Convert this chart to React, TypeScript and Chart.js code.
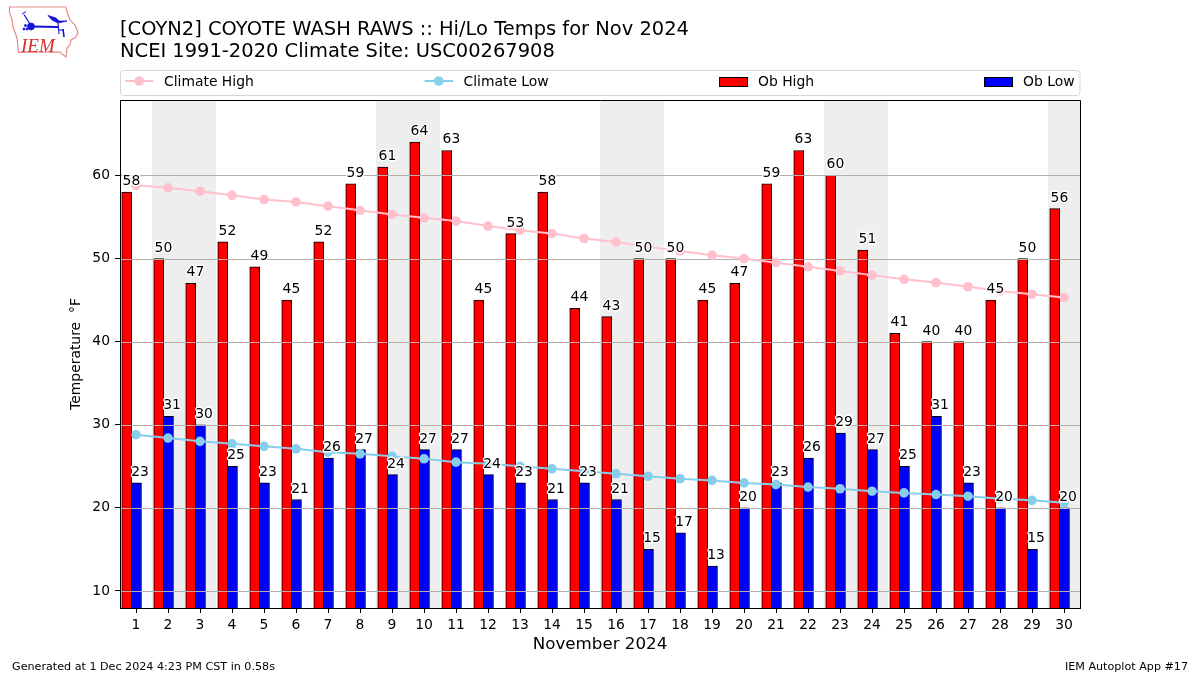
import React, { useEffect, useRef } from "react";
import { Chart, registerables } from "chart.js";

Chart.register(...registerables);

const days = [1,2,3,4,5,6,7,8,9,10,11,12,13,14,15,16,17,18,19,20,21,22,23,24,25,26,27,28,29,30];
const obHigh = [58,50,47,52,49,45,52,59,61,64,63,45,53,58,44,43,50,50,45,47,59,63,60,51,41,40,40,45,50,56];
const obLow = [23,31,30,25,23,21,26,27,24,27,27,24,23,21,23,21,15,17,13,20,23,26,29,27,25,31,23,20,15,20];
const climateHigh = [58.8,58.5,58.1,57.6,57.1,56.8,56.3,55.8,55.3,54.9,54.5,53.9,53.4,53.0,52.4,52.0,51.4,50.9,50.4,50.0,49.5,49.0,48.5,48.0,47.5,47.1,46.6,46.1,45.7,45.3];
const climateLow = [28.8,28.4,28.0,27.7,27.4,27.1,26.7,26.5,26.2,25.9,25.5,25.3,25.0,24.7,24.4,24.1,23.8,23.5,23.3,23.0,22.8,22.5,22.3,22.0,21.8,21.6,21.4,21.1,20.9,20.6];
const weekendBands = [[1.5,3.5],[8.5,10.5],[15.5,17.5],[22.5,24.5],[29.5,30.5]];
const yTicks = [10,20,30,40,50,60];
const titleLines = ["[COYN2] COYOTE WASH RAWS :: Hi/Lo Temps for Nov 2024", "NCEI 1991-2020 Climate Site: USC00267908"];
const footerLeft = "Generated at 1 Dec 2024 4:23 PM CST in 0.58s";
const footerRight = "IEM Autoplot App #17";

const FONT = '"DejaVu Sans"';
const HIGH_OFFSET = -0.29;
const LOW_OFFSET = 0.015;

const bandsPlugin = {
  id: "bands",
  beforeDatasetsDraw(chart: any) {
    const { ctx, chartArea, scales } = chart;
    ctx.save();
    ctx.fillStyle = "#eeeeee";
    for (const [a, b] of weekendBands) {
      const x0 = scales.x.getPixelForValue(a);
      const x1 = scales.x.getPixelForValue(b);
      ctx.fillRect(x0, chartArea.top, x1 - x0, chartArea.height);
    }
    ctx.restore();
  },
};

const gridPlugin = {
  id: "gridOverBars",
  afterDatasetDraw(chart: any, args: any) {
    // index 2 (Ob High) is the last bar dataset painted
    if (args.index !== 2) return;
    const { ctx, chartArea, scales } = chart;
    ctx.save();
    ctx.strokeStyle = "#b0b0b0";
    ctx.lineWidth = 1;
    for (const v of yTicks) {
      const y = Math.round(scales.y.getPixelForValue(v)) + 0.5;
      ctx.beginPath();
      ctx.moveTo(chartArea.left, y);
      ctx.lineTo(chartArea.right, y);
      ctx.stroke();
    }
    ctx.restore();
  },
};

const labelPlugin = {
  id: "valueLabels",
  afterDatasetsDraw(chart: any) {
    const { ctx, chartArea, scales } = chart;
    ctx.save();
    ctx.font = `13.9px ${FONT}`;
    ctx.textAlign = "left";
    ctx.textBaseline = "alphabetic";
    ctx.lineJoin = "round";
    const draw = (vals: number[], off: number) => {
      vals.forEach((v, i) => {
        const x = scales.x.getPixelForValue(days[i] + off);
        const y = scales.y.getPixelForValue(v) - 7;
        ctx.strokeStyle = "#ffffff";
        ctx.lineWidth = 2.8;
        ctx.strokeText(String(v), x, y);
        ctx.fillStyle = "#000000";
        ctx.fillText(String(v), x, y);
      });
    };
    draw(obHigh, -0.42);
    draw(obLow, -0.15);
    ctx.strokeStyle = "#000000";
    ctx.lineWidth = 1;
    ctx.strokeRect(chartArea.left + 0.5, chartArea.top + 0.5, chartArea.width, chartArea.height);
    ctx.restore();
  },
};

const legendPlugin = {
  id: "expandLegend",
  afterDraw(chart: any) {
    const { ctx } = chart;
    const ds = chart.data.datasets;
    const slots = [125, 424.5, 719, 984];
    ctx.save();
    ctx.strokeStyle = "#d5d5d5";
    ctx.lineWidth = 1;
    ctx.beginPath();
    ctx.roundRect(120.5, 70.5, 959.5, 25, 3);
    ctx.stroke();
    ctx.font = `13.9px ${FONT}`;
    ctx.textBaseline = "alphabetic";
    ctx.textAlign = "left";
    ds.forEach((d: any, i: number) => {
      const x = slots[i];
      if (d.type === "line") {
        ctx.strokeStyle = d.borderColor;
        ctx.lineWidth = 2;
        ctx.beginPath();
        ctx.moveTo(x, 81);
        ctx.lineTo(x + 28.5, 81);
        ctx.stroke();
        ctx.fillStyle = d.borderColor;
        ctx.beginPath();
        ctx.arc(x + 14.2, 81, 4.8, 0, Math.PI * 2);
        ctx.fill();
      } else {
        ctx.fillStyle = d.backgroundColor;
        ctx.fillRect(x, 77, 28, 10);
        ctx.strokeStyle = "#000000";
        ctx.lineWidth = 1;
        ctx.strokeRect(x + 0.5, 77.5, 28, 9);
      }
      ctx.fillStyle = "#000000";
      ctx.fillText(d.label, x + 39, 86);
    });
    ctx.restore();
  },
};

const footerPlugin = {
  id: "footer",
  afterDraw(chart: any) {
    const { ctx } = chart;
    ctx.save();
    ctx.font = `11.15px ${FONT}`;
    ctx.fillStyle = "#000000";
    ctx.textBaseline = "alphabetic";
    ctx.textAlign = "left";
    ctx.fillText(footerLeft, 12, 670);
    ctx.textAlign = "right";
    ctx.fillText(footerRight, 1188, 670);
    ctx.restore();
  },
};

function Logo() {
  return (
    <svg width={90} height={64} style={{ position: "absolute", left: 0, top: 0 }}>
      <path
        d="M9.5 7 L66 7 L67 12 L70 20 L75 25 L78 32 L76 37 L71 40 L70 45 L67 48 L66 57 L62 54 L60 52 L18.5 52.5 L17 38 L13 27 L12 20 L9.5 12 Z"
        fill="none"
        stroke="#e88a8a"
        strokeWidth={1.2}
      />
      <g stroke="#1414d8" fill="#1414d8">
        <line x1={31} y1={26.5} x2={58} y2={27} strokeWidth={1.8} />
        <circle cx={31} cy={26.5} r={3.4} />
        <line x1={30} y1={24} x2={24} y2={14.5} strokeWidth={1.2} />
        <line x1={22} y1={14} x2={26} y2={11.5} strokeWidth={1} />
        <path d="M48 15.5 L56 18 L59 21 L67 21 L58 23 L52 20 Z" strokeWidth={0.8} />
        <line x1={58} y1={23} x2={59} y2={34} strokeWidth={1.1} />
        <line x1={59} y1={30} x2={63} y2={30} strokeWidth={1.1} />
        <line x1={63} y1={29} x2={64} y2={37} strokeWidth={1.6} />
        <circle cx={24} cy={29} r={1} />
        <circle cx={27} cy={29} r={1} />
        <circle cx={25.5} cy={25.5} r={1} />
      </g>
      <text x={21} y={51.5} fontFamily='"Liberation Serif"' fontStyle="italic" fontSize={19} fill="#d92b2b">
        IEM
      </text>
    </svg>
  );
}

export default function App() {
  const ref = useRef<HTMLCanvasElement | null>(null);

  useEffect(() => {
    if (!ref.current) return;
    Chart.defaults.font.family = FONT;
    Chart.defaults.color = "#000000";
    const chart = new Chart(ref.current, {
      type: "bar",
      data: {
        datasets: [
          {
            type: "line",
            label: "Climate High",
            data: days.map((d, i) => ({ x: d, y: climateHigh[i] })),
            borderColor: "#ffc0cb",
            backgroundColor: "#ffc0cb",
            borderWidth: 2,
            pointRadius: 4.8,
            pointBorderWidth: 0,
            pointBackgroundColor: "#ffc0cb",
            tension: 0,
            order: 1,
          },
          {
            type: "line",
            label: "Climate Low",
            data: days.map((d, i) => ({ x: d, y: climateLow[i] })),
            borderColor: "#87ceeb",
            backgroundColor: "#87ceeb",
            borderWidth: 2,
            pointRadius: 4.8,
            pointBorderWidth: 0,
            pointBackgroundColor: "#87ceeb",
            tension: 0,
            order: 0,
          },
          {
            type: "bar",
            label: "Ob High",
            data: days.map((d, i) => ({ x: d + HIGH_OFFSET, y: obHigh[i] })),
            backgroundColor: "#ff0000",
            borderColor: "#000000",
            borderWidth: 1,
            borderSkipped: false,
            barThickness: 10,
            grouped: false,
            order: 2,
          },
          {
            type: "bar",
            label: "Ob Low",
            data: days.map((d, i) => ({ x: d + LOW_OFFSET, y: obLow[i] })),
            backgroundColor: "#0000ff",
            borderColor: "#000000",
            borderWidth: 1,
            borderSkipped: false,
            barThickness: 10,
            grouped: false,
            order: 3,
          },
        ],
      } as any,
      options: {
        responsive: false,
        animation: false,
        layout: { padding: { left: 0, right: 120, top: 0, bottom: 0 } },
        plugins: {
          legend: { display: false },
          tooltip: { enabled: false },
          title: {
            display: true,
            text: titleLines,
            align: "start",
            fullSize: false,
            color: "#000000",
            font: { size: 19.47, weight: "normal", lineHeight: 1.12, family: FONT },
            padding: { top: 19, bottom: 37.4 },
          },
        },
        scales: {
          x: {
            type: "linear",
            min: 0.5,
            max: 30.5,
            offset: false,
            afterBuildTicks: (s: any) => {
              s.ticks = days.map((v) => ({ value: v }));
            },
            afterFit: (s: any) => {
              s.height = 67;
            },
            ticks: {
              font: { size: 13.9 },
              color: "#000000",
              autoSkip: false,
              maxRotation: 0,
              padding: 4,
              callback: (v: any) => String(v),
            },
            grid: { offset: false, drawOnChartArea: false, tickColor: "#000000", tickLength: 5, tickWidth: 1 },
            border: { color: "#000000" },
            title: {
              display: true,
              text: "November 2024",
              color: "#000000",
              font: { size: 16.7 },
              padding: { top: 0, bottom: 20 },
            },
          },
          y: {
            type: "linear",
            min: 7.95,
            max: 69.07,
            afterBuildTicks: (s: any) => {
              s.ticks = yTicks.map((v) => ({ value: v }));
            },
            afterFit: (s: any) => {
              s.width = 120;
            },
            ticks: {
              font: { size: 13.9 },
              color: "#000000",
              padding: 5,
              callback: (v: any) => String(v),
            },
            grid: { drawOnChartArea: false, tickColor: "#000000", tickLength: 5, tickWidth: 1 },
            border: { color: "#000000" },
            title: {
              display: true,
              text: "Temperature  °F",
              color: "#000000",
              font: { size: 13.9 },
              padding: { top: 68, bottom: 0 },
            },
          },
        },
      } as any,
      plugins: [bandsPlugin, gridPlugin, labelPlugin, legendPlugin, footerPlugin],
    });
    return () => chart.destroy();
  }, []);

  return (
    <div style={{ position: "absolute", left: 0, top: 0, width: 1200, height: 675, background: "#ffffff" }}>
      <canvas ref={ref} width={1200} height={675} style={{ display: "block" }} />
      <Logo />
    </div>
  );
}
